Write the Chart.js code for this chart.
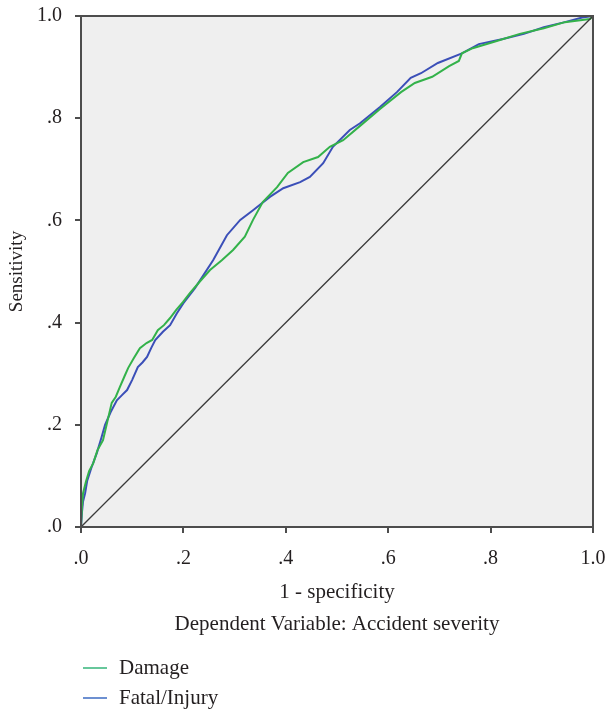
<!DOCTYPE html>
<html>
<head>
<meta charset="utf-8">
<script src="https://cdn.jsdelivr.net/npm/chart.js@4"></script>
<style>
  html, body { margin: 0; padding: 0; background: #fff; }
  #wrap { width: 606px; height: 713px; position: relative; }
</style>
</head>
<body>
<div id="wrap"><canvas id="roc"></canvas></div>
<script>
// ROC curves
const damageX = [0, 0.002, 0.004, 0.01, 0.016, 0.024, 0.032, 0.043, 0.05, 0.06, 0.068, 0.076, 0.085, 0.092, 0.103, 0.115, 0.128, 0.139, 0.15, 0.162, 0.174, 0.186, 0.199, 0.213, 0.23, 0.252, 0.275, 0.297, 0.32, 0.336, 0.355, 0.383, 0.404, 0.434, 0.463, 0.486, 0.512, 0.545, 0.584, 0.625, 0.652, 0.686, 0.719, 0.738, 0.744, 0.765, 0.812, 0.857, 0.904, 0.945, 0.979, 0.994, 1];
const damageY = [0, 0.04, 0.066, 0.09, 0.11, 0.125, 0.15, 0.17, 0.2, 0.243, 0.255, 0.274, 0.295, 0.311, 0.33, 0.35, 0.36, 0.366, 0.385, 0.395, 0.409, 0.425, 0.44, 0.458, 0.478, 0.503, 0.522, 0.542, 0.568, 0.601, 0.636, 0.665, 0.693, 0.714, 0.724, 0.744, 0.757, 0.785, 0.818, 0.851, 0.869, 0.881, 0.902, 0.912, 0.927, 0.937, 0.951, 0.965, 0.976, 0.988, 0.992, 0.994, 1];

const fatalX = [0, 0.002, 0.004, 0.008, 0.012, 0.02, 0.031, 0.04, 0.047, 0.058, 0.07, 0.08, 0.09, 0.1, 0.111, 0.12, 0.129, 0.137, 0.145, 0.16, 0.174, 0.187, 0.2, 0.223, 0.258, 0.285, 0.311, 0.336, 0.369, 0.395, 0.428, 0.447, 0.473, 0.492, 0.525, 0.545, 0.584, 0.617, 0.644, 0.664, 0.697, 0.744, 0.777, 0.824, 0.865, 0.904, 0.945, 0.979, 1];
const fatalY = [0, 0.03, 0.05, 0.066, 0.09, 0.115, 0.145, 0.175, 0.2, 0.225, 0.248, 0.258, 0.268, 0.288, 0.313, 0.322, 0.333, 0.35, 0.366, 0.382, 0.395, 0.418, 0.438, 0.468, 0.522, 0.571, 0.601, 0.62, 0.646, 0.663, 0.675, 0.685, 0.712, 0.744, 0.777, 0.79, 0.822, 0.851, 0.879, 0.888, 0.908, 0.927, 0.945, 0.955, 0.965, 0.978, 0.988, 0.997, 1];

const refX = [0, 1];
const refY = [0, 1];

const seriesLabels = ['Damage', 'Fatal/Injury'];
const tickLabels = ['.0', '.2', '.4', '.6', '.8', '1.0'];

const FONT = "'Liberation Serif', 'DejaVu Serif', serif";
const TEXT = '#231f20';

const toPoints = (xs, ys) => xs.map((x, i) => ({ x: x, y: ys[i] }));
const tickText = v => tickLabels[Math.round(v * 5)] ?? '';

// grey plot background + full frame
const frame = {
  id: 'frame',
  beforeDatasetsDraw(chart) {
    const { ctx, chartArea: a } = chart;
    ctx.save();
    ctx.fillStyle = '#efefef';
    ctx.fillRect(a.left, a.top, a.right - a.left, a.bottom - a.top);
    ctx.restore();
  },
  afterDraw(chart) {
    const { ctx, chartArea: a } = chart;
    ctx.save();
    ctx.strokeStyle = '#4d4d4d';
    ctx.lineWidth = 2;
    ctx.strokeRect(a.left, a.top, a.right - a.left, a.bottom - a.top);
    ctx.restore();
  }
};

// vertical legend under the axis title
const sideLegend = {
  id: 'sideLegend',
  afterDraw(chart) {
    const { ctx } = chart;
    const colors = ['#35b57a', '#3d6bc2'];
    ctx.save();
    ctx.font = '21px ' + FONT;
    ctx.textBaseline = 'middle';
    seriesLabels.forEach((lbl, i) => {
      const y = 668 + i * 30;
      ctx.strokeStyle = colors[i];
      ctx.lineWidth = 1.5;
      ctx.beginPath();
      ctx.moveTo(83, y);
      ctx.lineTo(107, y);
      ctx.stroke();
      ctx.fillStyle = TEXT;
      ctx.fillText(lbl, 119, y);
    });
    ctx.restore();
  }
};

new Chart(document.getElementById('roc'), {
  type: 'scatter',
  data: {
    datasets: [
      {
        label: 'Reference',
        data: toPoints(refX, refY),
        showLine: true,
        borderColor: '#3a3a3a',
        borderWidth: 1.3,
        pointRadius: 0
      },
      {
        label: seriesLabels[0],
        data: toPoints(damageX, damageY),
        showLine: true,
        borderColor: '#33b24a',
        borderWidth: 2,
        pointRadius: 0
      },
      {
        label: seriesLabels[1],
        data: toPoints(fatalX, fatalY),
        showLine: true,
        borderColor: '#3b4fb8',
        borderWidth: 2,
        pointRadius: 0
      }
    ]
  },
  options: {
    responsive: true,
    maintainAspectRatio: false,
    animation: false,
    layout: { padding: { top: 16, right: 13, left: 0, bottom: 0 } },
    plugins: {
      legend: { display: false },
      tooltip: { enabled: false }
    },
    scales: {
      x: {
        type: 'linear',
        min: 0,
        max: 1,
        afterFit: s => { s.height = 186; s.paddingLeft = 0; s.paddingRight = 0; },
        ticks: {
          stepSize: 0.2,
          color: TEXT,
          padding: 14,
          font: { family: FONT, size: 20 },
          callback: tickText
        },
        grid: { drawOnChartArea: false, drawTicks: true, tickLength: 6, color: '#4d4d4d', lineWidth: 2 },
        border: { display: false },
        title: {
          display: true,
          text: ['1 - specificity', 'Dependent Variable: Accident severity'],
          color: TEXT,
          font: { family: FONT, size: 21, lineHeight: 32 / 21 },
          padding: { top: 0, bottom: 73 }
        }
      },
      y: {
        type: 'linear',
        min: 0,
        max: 1,
        afterFit: s => { s.width = 81; s.paddingTop = 0; s.paddingBottom = 0; },
        ticks: {
          stepSize: 0.2,
          color: TEXT,
          padding: 13,
          font: { family: FONT, size: 20 },
          callback: tickText
        },
        grid: { drawOnChartArea: false, drawTicks: true, tickLength: 6, color: '#4d4d4d', lineWidth: 2 },
        border: { display: false },
        title: {
          display: true,
          text: 'Sensitivity',
          color: TEXT,
          font: { family: FONT, size: 19 },
          padding: { top: 6, bottom: 0 }
        }
      }
    }
  },
  plugins: [frame, sideLegend]
});
</script>
</body>
</html>
